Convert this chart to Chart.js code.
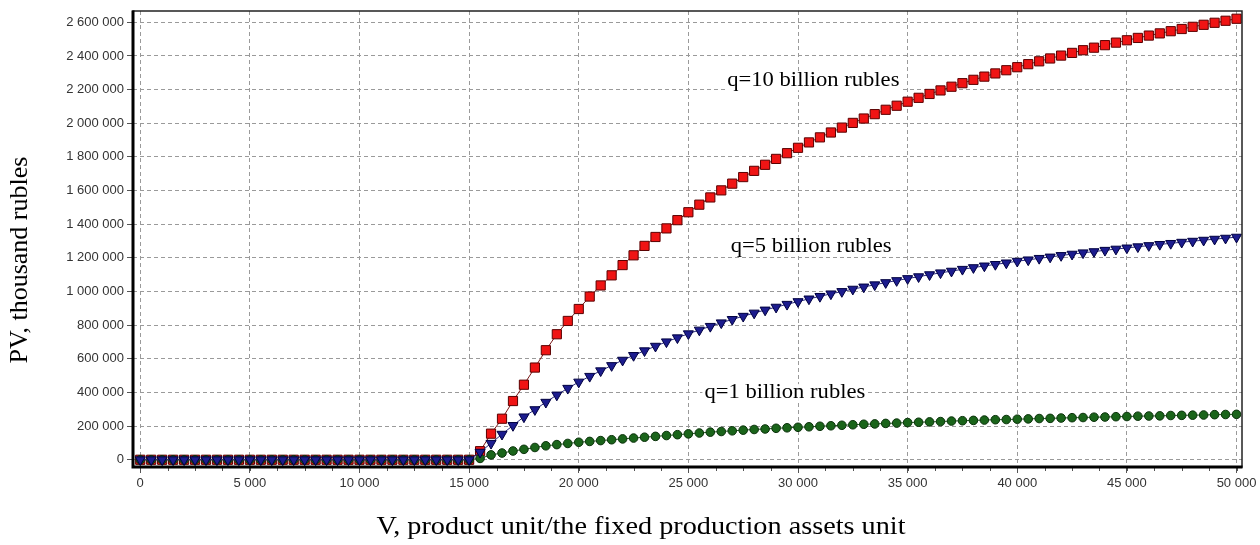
<!DOCTYPE html>
<html>
<head>
<meta charset="utf-8">
<script src="https://cdn.jsdelivr.net/npm/chart.js@4/dist/chart.umd.min.js"></script>
<style>
  html, body { margin: 0; padding: 0; background: #fff; }
  canvas { display: block; }
</style>
</head>
<body>
<canvas id="c" width="1260" height="545"></canvas>
<script>
// V, product unit / fixed production assets unit
const V = [
  0, 500, 1000, 1500, 2000, 2500, 3000, 3500, 4000, 4500,
  5000, 5500, 6000, 6500, 7000, 7500, 8000, 8500, 9000, 9500,
  10000, 10500, 11000, 11500, 12000, 12500, 13000, 13500, 14000, 14500,
  15000, 15500, 16000, 16500, 17000, 17500, 18000, 18500, 19000, 19500,
  20000, 20500, 21000, 21500, 22000, 22500, 23000, 23500, 24000, 24500,
  25000, 25500, 26000, 26500, 27000, 27500, 28000, 28500, 29000, 29500,
  30000, 30500, 31000, 31500, 32000, 32500, 33000, 33500, 34000, 34500,
  35000, 35500, 36000, 36500, 37000, 37500, 38000, 38500, 39000, 39500,
  40000, 40500, 41000, 41500, 42000, 42500, 43000, 43500, 44000, 44500,
  45000, 45500, 46000, 46500, 47000, 47500, 48000, 48500, 49000, 49500,
  50000
];

// PV, thousand rubles — q = 10 billion rubles
const pvQ10 = [
  0, 0, 0, 0, 0, 0, 0, 0, 0, 0,
  0, 0, 0, 0, 0, 0, 0, 0, 0, 0,
  0, 0, 0, 0, 0, 0, 0, 0, 0, 0,
  0, 51000, 155000, 244000, 349000, 446000, 548000, 651000, 746000, 825000,
  896000, 970000, 1036000, 1096000, 1157000, 1215000, 1271000, 1324000, 1375000, 1424000,
  1471000, 1516000, 1559000, 1601000, 1641000, 1680000, 1717000, 1753000, 1788000, 1822000,
  1854000, 1886000, 1916000, 1945000, 1974000, 2002000, 2028000, 2054000, 2080000, 2104000,
  2128000, 2151000, 2174000, 2195000, 2217000, 2238000, 2258000, 2277000, 2296000, 2315000,
  2333000, 2351000, 2368000, 2385000, 2402000, 2418000, 2434000, 2449000, 2464000, 2479000,
  2493000, 2507000, 2521000, 2534000, 2547000, 2560000, 2573000, 2585000, 2597000, 2609000,
  2621000
];

// q = 5 billion rubles
const pvQ5 = [
  0, 0, 0, 0, 0, 0, 0, 0, 0, 0,
  0, 0, 0, 0, 0, 0, 0, 0, 0, 0,
  0, 0, 0, 0, 0, 0, 0, 0, 0, 0,
  0, 45000, 98000, 152000, 204000, 255000, 298000, 342000, 385000, 425000,
  462000, 496000, 529000, 560000, 592000, 620000, 648000, 675000, 701000, 725000,
  749000, 771000, 793000, 814000, 834000, 853000, 872000, 890000, 907000, 924000,
  940000, 956000, 971000, 986000, 1000000, 1014000, 1027000, 1040000, 1053000, 1065000,
  1077000, 1088000, 1100000, 1111000, 1121000, 1132000, 1142000, 1152000, 1161000, 1170000,
  1180000, 1188000, 1197000, 1205000, 1214000, 1222000, 1230000, 1237000, 1245000, 1252000,
  1259000, 1266000, 1273000, 1280000, 1286000, 1293000, 1299000, 1305000, 1311000, 1317000,
  1323000
];

// q = 1 billion rubles
const pvQ1 = [
  0, 0, 0, 0, 0, 0, 0, 0, 0, 0,
  0, 0, 0, 0, 0, 0, 0, 0, 0, 0,
  0, 0, 0, 0, 0, 0, 0, 0, 0, 0,
  0, 8000, 29000, 40000, 52000, 62000, 73000, 83000, 90000, 97000,
  104000, 109000, 114000, 119000, 124000, 129000, 134000, 139000, 144000, 149000,
  154000, 159000, 164000, 168000, 172000, 176000, 180000, 183000, 187000, 190000,
  193000, 196000, 199000, 202000, 205000, 208000, 211000, 213000, 216000, 218000,
  221000, 223000, 225000, 227000, 230000, 232000, 234000, 236000, 238000, 239000,
  241000, 243000, 245000, 246000, 248000, 250000, 251000, 253000, 254000, 256000,
  257000, 259000, 260000, 261000, 263000, 264000, 265000, 266000, 268000, 269000,
  270000
];

const xTicks = [0, 5000, 10000, 15000, 20000, 25000, 30000, 35000, 40000, 45000, 50000];
const yTicks = [0, 200000, 400000, 600000, 800000, 1000000, 1200000, 1400000, 1600000,
                1800000, 2000000, 2200000, 2400000, 2600000];

const xTitle = 'V, product unit/the fixed production assets unit';
const yTitle = 'PV, thousand rubles';
const seriesLabels = ['q=10 billion rubles', 'q=5 billion rubles', 'q=1 billion rubles'];
// label anchors in data units (V, PV)
const labelAnchors = [[30700, 2250000], [30600, 1268000], [29400, 396000]];

function fmt(v) { return String(v).replace(/\B(?=(\d{3})+(?!\d))/g, ' '); }
function pts(ys) { return V.map((x, i) => ({ x: x, y: ys[i] })); }

const SERIF = '"Liberation Serif", "Times New Roman", serif';

function stretchedText(ctx, text, cx, cy, sx) {
  ctx.save();
  ctx.translate(cx, cy);
  ctx.scale(sx, 1);
  ctx.fillText(text, 0, 0);
  ctx.restore();
}

const frame = {
  id: 'frame',
  afterDraw(chart) {
    const ctx = chart.ctx, a = chart.chartArea;
    const xs = chart.scales.x, ys = chart.scales.y;
    ctx.save();
    // series labels
    ctx.font = '20px ' + SERIF;
    ctx.textBaseline = 'middle';
    ctx.textAlign = 'center';
    const sx = 1.13;
    seriesLabels.forEach((t, i) => {
      const px = xs.getPixelForValue(labelAnchors[i][0]);
      const py = ys.getPixelForValue(labelAnchors[i][1]);
      const w = ctx.measureText(t).width * sx;
      ctx.fillStyle = '#fff';
      ctx.fillRect(px - w / 2 - 2, py - 9, w + 4, 18);
      ctx.fillStyle = '#000';
      stretchedText(ctx, t, px, py, sx);
    });
    // minor x ticks
    ctx.strokeStyle = '#555';
    ctx.lineWidth = 1;
    ctx.beginPath();
    for (let v = 0; v <= 50000; v += 1250) {
      const px = Math.round(xs.getPixelForValue(v)) + 0.5;
      ctx.moveTo(px, a.bottom);
      ctx.lineTo(px, a.bottom + 4);
    }
    ctx.stroke();
    // frame
    ctx.strokeStyle = '#222';
    ctx.lineWidth = 1.5;
    ctx.strokeRect(a.left, a.top, a.right - a.left, a.bottom - a.top);
    ctx.strokeStyle = '#000';
    ctx.lineWidth = 3;
    ctx.beginPath();
    ctx.moveTo(a.left, a.top - 0.5);
    ctx.lineTo(a.left, a.bottom);
    ctx.lineTo(a.right + 0.5, a.bottom);
    ctx.stroke();
    // axis titles
    ctx.fillStyle = '#000';
    ctx.font = '25px ' + SERIF;
    ctx.textAlign = 'center';
    ctx.textBaseline = 'middle';
    stretchedText(ctx, xTitle, 641, 527, 1.13);
    ctx.translate(20, 260);
    ctx.rotate(-Math.PI / 2);
    ctx.font = '26px ' + SERIF;
    ctx.fillText(yTitle, 0, 0);
    ctx.restore();
  }
};

new Chart(document.getElementById('c'), {
  type: 'line',
  data: {
    datasets: [
      {
        label: seriesLabels[1], data: pts(pvQ5),
        borderColor: '#2a2a80', borderWidth: 1,
        pointStyle: 'triangle', rotation: 180, pointRadius: 5.8,
        pointBackgroundColor: '#1c1c8e', pointBorderColor: '#000040', pointBorderWidth: 1
      },
      {
        label: seriesLabels[2], data: pts(pvQ1),
        borderColor: '#1f5a1f', borderWidth: 1,
        pointStyle: 'circle', pointRadius: 4.3,
        pointBackgroundColor: '#1a641a', pointBorderColor: '#0a300a', pointBorderWidth: 1
      },
      {
        label: seriesLabels[0], data: pts(pvQ10),
        borderColor: '#7a1a1a', borderWidth: 1,
        pointStyle: 'rect', pointRadius: 6.5,
        pointBackgroundColor: '#f01414', pointBorderColor: '#5a0000', pointBorderWidth: 1
      }
    ]
  },
  options: {
    responsive: false,
    animation: false,
    devicePixelRatio: 1,
    layout: { padding: { left: 0, right: 18, top: 11, bottom: 0 } },
    plugins: { legend: { display: false }, tooltip: { enabled: false } },
    elements: { line: { tension: 0 } },
    scales: {
      x: {
        type: 'linear', min: -330, max: 50250,
        afterBuildTicks(s) { s.ticks = xTicks.map(v => ({ value: v })); },
        afterFit(s) { s.height = 78; },
        grid: { color: '#9a9a9a', lineWidth: 1, tickLength: 6, tickColor: '#555', drawTicks: true },
        border: { display: false, dash: [4, 3] },
        ticks: {
          autoSkip: false, maxRotation: 0, padding: 3, color: '#333',
          font: { family: '"Liberation Sans", Arial, sans-serif', size: 13 },
          callback: v => fmt(v)
        }
      },
      y: {
        type: 'linear', min: -43000, max: 2667000,
        afterBuildTicks(s) { s.ticks = yTicks.map(v => ({ value: v })); },
        afterFit(s) { s.width = 133; },
        grid: { color: '#9a9a9a', lineWidth: 1, tickLength: 6, tickColor: '#555', drawTicks: true },
        border: { display: false, dash: [4, 3] },
        ticks: {
          autoSkip: false, padding: 3, color: '#333',
          font: { family: '"Liberation Sans", Arial, sans-serif', size: 13 },
          callback: v => fmt(v)
        }
      }
    }
  },
  plugins: [frame]
});
</script>
</body>
</html>
